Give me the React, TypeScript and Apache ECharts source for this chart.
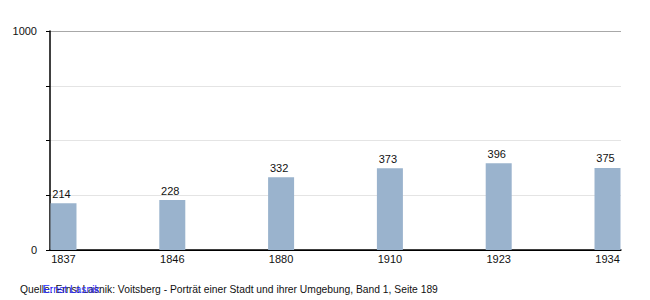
import React, { useEffect, useRef } from "react";
import * as echarts from "echarts";

const years = ["1837", "1846", "1880", "1910", "1923", "1934"];
const population = [214, 228, 332, 373, 396, 375];
const yTickLabels = ["0", "1000"];
const sourceText = "Quelle: Ernst Lasnik: Voitsberg - Porträt einer Stadt und ihrer Umgebung, Band 1, Seite 189";
const linkText = "Ernst Lasnik";

const FONT = "'Liberation Sans', Arial, sans-serif";

export default function App() {
  const ref = useRef<HTMLDivElement>(null);
  useEffect(() => {
    document.body.style.margin = "0";
    if (!ref.current) return;
    const chart = echarts.init(ref.current, null, { renderer: "svg" });
    chart.setOption({
      animation: false,
      grid: { left: 50, right: 29, top: 31, bottom: 50 },
      xAxis: {
        type: "value",
        min: -0.124,
        max: years.length - 1 + 0.124,
        axisLine: { show: true, onZero: false, lineStyle: { color: "#000", width: 1.5 } },
        axisTick: { show: false },
        splitLine: { show: false },
        axisLabel: {
          customValues: years.map((_, i) => i),
          formatter: (v: number) => years[Math.round(v)] ?? "",
          color: "#111",
          fontSize: 11,
          fontFamily: FONT,
          margin: 3,
        },
      },
      yAxis: {
        type: "value",
        min: 0,
        max: 1000,
        interval: 250,
        axisLine: { show: true, onZero: false, lineStyle: { color: "#000", width: 1.5 } },
        axisTick: { show: true, length: 4, lineStyle: { color: "#000" } },
        splitLine: {
          show: true,
          lineStyle: { color: ["#000", "#e4e4e4", "#e4e4e4", "#e4e4e4", "#a8a8a8"] },
        },
        axisLabel: {
          formatter: (v: number) => (yTickLabels.includes(String(v)) ? String(v) : ""),
          color: "#111",
          fontSize: 11,
          fontFamily: FONT,
          margin: 13,
        },
      },
      series: [
        {
          type: "bar",
          data: population.map((v, i) => [i, v]),
          barWidth: 26,
          itemStyle: { color: "#9ab3cd" },
          label: {
            show: true,
            position: "top",
            distance: 4,
            offset: [-2, 0],
            color: "#111",
            fontSize: 11,
            fontFamily: FONT,
          },
        },
      ],
      graphic: [
        {
          type: "text",
          left: 20,
          top: 284,
          style: { text: sourceText, fill: "#111", fontSize: 10.3, fontFamily: FONT },
        },
        {
          type: "text",
          left: 43,
          top: 284,
          style: { text: linkText, fill: "#2a2aff", fontSize: 10.3, fontFamily: FONT },
        },
      ],
    });
    return () => chart.dispose();
  }, []);
  return <div ref={ref} style={{ width: 650, height: 300 }} />;
}
